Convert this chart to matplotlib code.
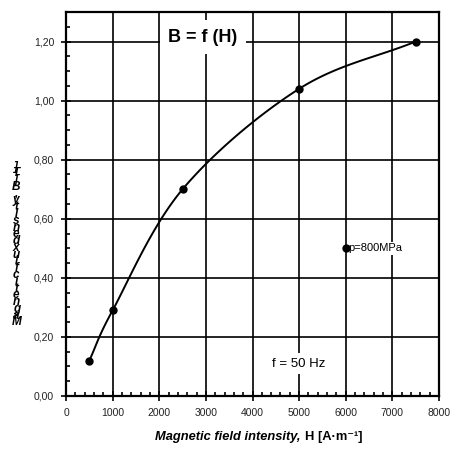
import numpy as np
import matplotlib.pyplot as plt
from matplotlib.ticker import MultipleLocator, FuncFormatter

plt.rcParams['font.family'] = ['Liberation Sans', 'DejaVu Sans']

# data
H = [500, 1000, 2500, 5000, 7500]
B = [0.12, 0.29, 0.70, 1.04, 1.20]
series_label = "p=800MPa"


def catmull_rom(x, y, n=30):
    # smooth line through the points, like a spreadsheet "smoothed line"
    x = np.asarray(x, float)
    y = np.asarray(y, float)
    px = np.concatenate([[2 * x[0] - x[1]], x, [2 * x[-1] - x[-2]]])
    py = np.concatenate([[2 * y[0] - y[1]], y, [2 * y[-1] - y[-2]]])
    xs, ys = [], []
    t = np.linspace(0, 1, n)
    for i in range(1, len(px) - 2):
        for p, out in ((px, xs), (py, ys)):
            p0, p1, p2, p3 = p[i - 1], p[i], p[i + 1], p[i + 2]
            out.extend(0.5 * (2 * p1 + (-p0 + p2) * t
                              + (2 * p0 - 5 * p1 + 4 * p2 - p3) * t ** 2
                              + (-p0 + 3 * p1 - 3 * p2 + p3) * t ** 3))
    return np.array(xs), np.array(ys)


fig = plt.figure(figsize=(4.5, 4.57), dpi=100)
ax = fig.add_axes([0.1467, 0.1335, 0.8289, 0.8402])

sx, sy = catmull_rom(H, B)
ax.plot(sx, sy, color='black', lw=1.4, zorder=3)
ax.plot(H, B, 'o', color='black', ms=5, zorder=4)

ax.set_xlim(0, 8000)
ax.set_ylim(0, 1.3)
ax.xaxis.set_major_locator(MultipleLocator(1000))
ax.xaxis.set_minor_locator(MultipleLocator(200))
ax.set_yticks(np.arange(0, 1.21, 0.2))
ax.yaxis.set_minor_locator(MultipleLocator(0.05))
ax.yaxis.set_major_formatter(FuncFormatter(lambda v, p: f"{v:.2f}".replace('.', ',')))

ax.grid(True, which='major', color='black', lw=1.2)
ax.tick_params(which='major', direction='inout', length=7, width=1.2, labelsize=7.5,
               pad=5, labelcolor='#222222')
ax.tick_params(which='minor', direction='in', length=3, width=1.2)
for s in ax.spines.values():
    s.set_linewidth(1.6)

ax.text(2940, 1.215, "B = f (H)", fontsize=13, fontweight='bold', ha='center', va='center',
        bbox=dict(facecolor='white', edgecolor='none', pad=6), zorder=5)
ax.text(4980, 0.11, "f = 50 Hz", fontsize=9.5, ha='center', va='center',
        bbox=dict(facecolor='white', edgecolor='none', pad=3), zorder=5)

# legend entry drawn inside the plot
ax.plot([6000], [0.50], 'o', color='black', ms=5, zorder=6)
ax.text(6060, 0.50, series_label, fontsize=8, ha='left', va='center',
        bbox=dict(facecolor='white', edgecolor='none', pad=1), zorder=5)

# x axis title in two pieces: italic bold + bold
fig.text(0.668, 0.044, "Magnetic field intensity,", fontsize=9.3, fontweight='bold',
         style='italic', ha='right', va='center')
fig.text(0.678, 0.044, "H [A\u00b7m\u207b\u00b9]", fontsize=9.3, fontweight='bold',
         ha='left', va='center')

# garbled stacked y label as in the reference
ylab = "Magnetic flux density, B [T]"
fig.text(0.036, 0.465, "\n".join(reversed(ylab.replace(" ", ""))), fontsize=8.5,
         fontweight='bold', style='italic', ha='center', va='center', linespacing=0.42)

fig.savefig("out.png", dpi=100)
